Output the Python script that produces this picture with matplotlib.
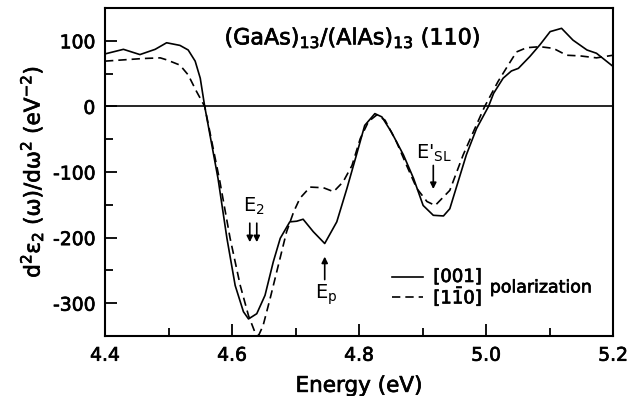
import matplotlib
matplotlib.use("Agg")
import matplotlib.pyplot as plt
import matplotlib.patheffects as pe
from matplotlib.ticker import MultipleLocator

# Data
x_001 = [4.40, 4.429, 4.455, 4.479, 4.497, 4.518, 4.531, 4.542, 4.550, 4.557,
         4.578, 4.592, 4.605, 4.618, 4.626, 4.639, 4.652, 4.665, 4.676, 4.691,
         4.702, 4.712, 4.728, 4.746, 4.765, 4.781, 4.796, 4.809, 4.825, 4.836,
         4.851, 4.870, 4.886, 4.901, 4.917, 4.933, 4.943, 4.969, 4.985, 5.004,
         5.012, 5.027, 5.040, 5.051, 5.069, 5.085, 5.101, 5.119, 5.137, 5.159,
         5.174, 5.200]
y_001 = [80, 87, 79, 87, 97, 93, 86, 69, 43, 0,
         -110, -201, -273, -313, -324, -316, -288, -237, -201, -176,
         -175, -172, -191, -209, -176, -125, -74, -29, -11, -16,
         -39, -74, -110, -151, -166, -167, -156, -74, -34, 0,
         20, 43, 54, 58, 76, 94, 114, 119, 101, 86,
         81, 61]

x_1m10 = [4.40, 4.43, 4.46, 4.487, 4.497, 4.518, 4.531, 4.544, 4.557, 4.581,
          4.597, 4.613, 4.626, 4.636, 4.642, 4.649, 4.660, 4.673, 4.686, 4.697,
          4.707, 4.723, 4.744, 4.760, 4.775, 4.789, 4.802, 4.815, 4.828, 4.841,
          4.859, 4.875, 4.891, 4.907, 4.920, 4.933, 4.943, 4.964, 4.980, 4.998,
          5.019, 5.035, 5.048, 5.064, 5.085, 5.106, 5.127, 5.148, 5.174, 5.200]
y_1m10 = [69, 71, 73, 74, 71, 63, 48, 23, 0, -115,
          -201, -273, -319, -344, -349, -334, -293, -242, -191, -161,
          -140, -123, -124, -130, -115, -90, -49, -23, -13, -21,
          -54, -90, -125, -145, -151, -138, -128, -74, -39, 0,
          38, 63, 83, 89.5, 91, 88.5, 78, 77, 74, 78]

x_ticks = [4.4, 4.6, 4.8, 5.0, 5.2]
x_ticklabels = ['4.4', '4.6', '4.8', '5.0', '5.2']
y_ticks = [-300, -200, -100, 0, 100]

plt.rcParams['font.family'] = ['DejaVu Sans']
plt.rcParams['mathtext.default'] = 'regular'
plt.rcParams['axes.unicode_minus'] = False

med = [pe.withStroke(linewidth=0.5, foreground='black')]

fig = plt.figure(figsize=(6.3, 3.96), dpi=100)
ax = fig.add_axes([105/630, 1-336/396, (613-105)/630, (336-8)/396])

ax.plot(x_001, y_001, color='black', lw=1.2, ls='-')
ax.plot(x_1m10, y_1m10, color='black', lw=1.2, ls=(0, (5, 3)))
ax.axhline(0, color='black', lw=1.2)

ax.set_xlim(4.4, 5.2)
ax.set_ylim(-350, 150)
ax.set_xticks(x_ticks)
ax.set_xticklabels(x_ticklabels)
ax.set_yticks(y_ticks)
ax.xaxis.set_minor_locator(MultipleLocator(0.1))
ax.yaxis.set_minor_locator(MultipleLocator(50))
ax.tick_params(which='both', direction='in', top=False, right=False, width=1.3,
               labelsize=13.5, pad=7)
ax.tick_params(which='major', length=8.5)
ax.tick_params(which='minor', length=5.5)
for s in ax.spines.values():
    s.set_linewidth(1.5)
for t in ax.get_xticklabels() + ax.get_yticklabels():
    t.set_path_effects(med)

xl = ax.set_xlabel('Energy (eV)', fontsize=15.5, labelpad=8)
yl = ax.set_ylabel(r'd$^2\varepsilon_2$ (ω)/dω$^2$ (eV$^{-2}$)', fontsize=15.5,
                   labelpad=5)
xl.set_path_effects(med)
yl.set_path_effects(med)

ax.text(4.79, 104, r'(GaAs)$_{13}$/(AlAs)$_{13}$ (110)', ha='center', va='center',
        fontsize=16, path_effects=med)

# annotations
ax.text(4.634, -152, r'E$_2$', ha='center', va='center', fontsize=14)
for xa in (4.628, 4.639):
    ax.annotate('', xy=(xa, -207), xytext=(xa, -178),
                arrowprops=dict(arrowstyle='-|>', color='black', lw=1.2,
                                mutation_scale=9, shrinkA=0, shrinkB=0))
ax.annotate('', xy=(4.746, -229), xytext=(4.746, -264),
            arrowprops=dict(arrowstyle='-|>', color='black', lw=1.2,
                            mutation_scale=9, shrinkA=0, shrinkB=0))
ax.text(4.749, -287, r'E$_p$', ha='center', va='center', fontsize=14)
ax.text(4.918, -72, r"E$'_{SL}$", ha='center', va='center', fontsize=14)
ax.annotate('', xy=(4.917, -126), xytext=(4.917, -90),
            arrowprops=dict(arrowstyle='-|>', color='black', lw=1.2,
                            mutation_scale=9, shrinkA=0, shrinkB=0))

# legend
ax.plot([4.852, 4.901], [-260, -260], color='black', lw=1.2)
ax.plot([4.852, 4.901], [-290, -290], color='black', lw=1.2, ls=(0, (5, 3)))
ax.text(4.917, -260, '[001]', ha='left', va='center', fontsize=13, path_effects=med)
ax.text(4.917, -290, r'[1$\bar{1}$0]', ha='left', va='center', fontsize=13, path_effects=med)
ax.text(5.006, -276, 'polarization', ha='left', va='center', fontsize=12.5, path_effects=med)

fig.savefig('out.png', dpi=100)
